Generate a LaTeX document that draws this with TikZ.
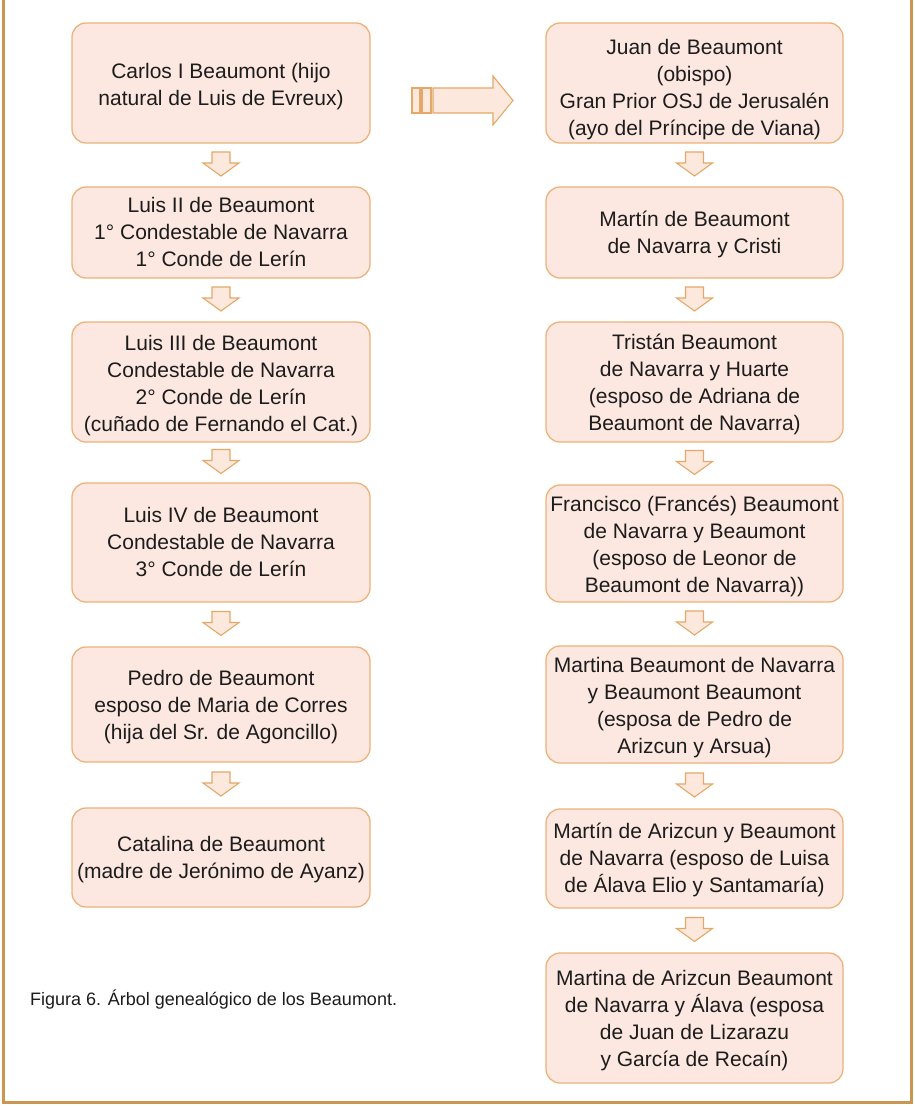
\documentclass[tikz,border=0pt]{standalone}
\usepackage{fontspec}
\setmainfont{Liberation Sans}
\usetikzlibrary{calc}
\definecolor{boxfill}{RGB}{252,232,224}
\definecolor{boxline}{RGB}{236,178,122}
\definecolor{arrfill}{RGB}{252,232,220}
\definecolor{arrline}{RGB}{228,168,104}
\definecolor{framecol}{RGB}{202,150,82}
\definecolor{txt}{RGB}{28,28,28}
\newcommand\dnarrow[2]{%
  \coordinate (m) at ($(#1.south)!0.5!(#2.north)$);
  \draw[arr] ($(m)+(-9,13)$) -- ($(m)+(9,13)$) -- ($(m)+(9,2)$) -- ($(m)+(18,2)$) -- ($(m)+(0,-11)$) -- ($(m)+(-18,2)$) -- ($(m)+(-9,2)$) -- cycle;}
\newcommand\tshift[2]{\raisebox{-#1pt}[\height][\depth]{\begin{tabular}{@{}c@{}}#2\end{tabular}}}
\begin{document}
\begin{tikzpicture}[x=1pt,y=1pt,
  famb/.style={draw=boxline, fill=boxfill, line width=1.3pt, rounded corners=14pt, align=center, text=txt, font=\fontsize{21}{27}\selectfont, inner sep=0pt},
  arr/.style={draw=arrline, fill=arrfill, line width=1.1pt, line join=miter}]
\useasboundingbox (0,0) rectangle (914,-1106);
\draw[framecol, line width=3pt] (3,0) -- (3,-1102) -- (911,-1102) -- (911,0);
% left column
\node[famb, minimum width=298pt, minimum height=120pt] (l1) at (221,-83) {\tshift{4}{Carlos I Beaumont (hijo\\natural de Luis de Evreux)}};
\node[famb, minimum width=298pt, minimum height=91pt] (l2) at (221,-232.5) {\tshift{2}{Luis II de Beaumont\\1° Condestable de Navarra\\1° Conde de Lerín}};
\node[famb, minimum width=298pt, minimum height=120pt] (l3) at (221,-382) {\tshift{4}{Luis III de Beaumont\\Condestable de Navarra\\2° Conde de Lerín\\(cuñado de Fernando el Cat.)}};
\node[famb, minimum width=298pt, minimum height=119pt] (l4) at (221,-542.5) {\tshift{2}{Luis IV de Beaumont\\Condestable de Navarra\\3° Conde de Lerín}};
\node[famb, minimum width=298pt, minimum height=115pt] (l5) at (221,-704.5) {\tshift{3}{Pedro de Beaumont\\esposo de Maria de Corres\\(hija del Sr. de Agoncillo)}};
\node[famb, minimum width=298pt, minimum height=99pt] (l6) at (221,-857.5) {\tshift{2}{Catalina de Beaumont\\(madre de Jerónimo de Ayanz)}};
% right column
\node[famb, minimum width=297pt, minimum height=120pt] (r1) at (694.5,-83) {\tshift{7}{Juan de Beaumont\\(obispo)\\Gran Prior OSJ de Jerusalén\\(ayo del Príncipe de Viana)}};
\node[famb, minimum width=297pt, minimum height=91pt] (r2) at (694.5,-232.5) {\tshift{2}{Martín de Beaumont\\de Navarra y Cristi}};
\node[famb, minimum width=297pt, minimum height=120pt] (r3) at (694.5,-382) {\tshift{3}{Tristán Beaumont\\de Navarra y Huarte\\(esposo de Adriana de\\Beaumont de Navarra)}};
\node[famb, minimum width=297pt, minimum height=117pt] (r4) at (694.5,-543.5) {\tshift{3}{Francisco (Francés) Beaumont\\de Navarra y Beaumont\\(esposo de Leonor de\\Beaumont de Navarra))}};
\node[famb, minimum width=297pt, minimum height=117pt] (r5) at (694.5,-704.5) {\tshift{3}{Martina Beaumont de Navarra\\y Beaumont Beaumont\\(esposa de Pedro de\\Arizcun y Arsua)}};
\node[famb, minimum width=297pt, minimum height=99pt] (r6) at (694.5,-858.5) {\tshift{2}{Martín de Arizcun y Beaumont\\de Navarra (esposo de Luisa\\de Álava Elio y Santamaría)}};
\node[famb, minimum width=297pt, minimum height=130pt] (r7) at (694.5,-1018) {\tshift{3}{Martina de Arizcun Beaumont\\de Navarra y Álava (esposa\\de Juan de Lizarazu\\y García de Recaín)}};
% down arrows
\dnarrow{l1}{l2}
\dnarrow{l2}{l3}
\dnarrow{l3}{l4}
\dnarrow{l4}{l5}
\dnarrow{l5}{l6}
\dnarrow{r1}{r2}
\dnarrow{r2}{r3}
\dnarrow{r3}{r4}
\dnarrow{r4}{r5}
\dnarrow{r5}{r6}
\dnarrow{r6}{r7}
% big arrow
\coordinate (h) at ($(l1.east)!0.5!(r1.west)+(0,-17.5)$);
\draw[arr] ($(h)+(-46,12.5)$) rectangle ($(h)+(-38,-12.5)$);
\draw[arr] ($(h)+(-36,12.5)$) rectangle ($(h)+(-27,-12.5)$);
\draw[arr] ($(h)+(-25,12.5)$) -- ($(h)+(35,12.5)$) -- ($(h)+(35,24.5)$) -- ($(h)+(55,0)$) -- ($(h)+(35,-24.5)$) -- ($(h)+(35,-12.5)$) -- ($(h)+(-25,-12.5)$) -- cycle;
% caption
\node[anchor=base west, inner sep=0pt, font=\fontsize{18}{21}\selectfont, text=txt] (cap) at (30,-1005) {Figura 6. Árbol genealógico de los Beaumont.};
\end{tikzpicture}
\end{document}
